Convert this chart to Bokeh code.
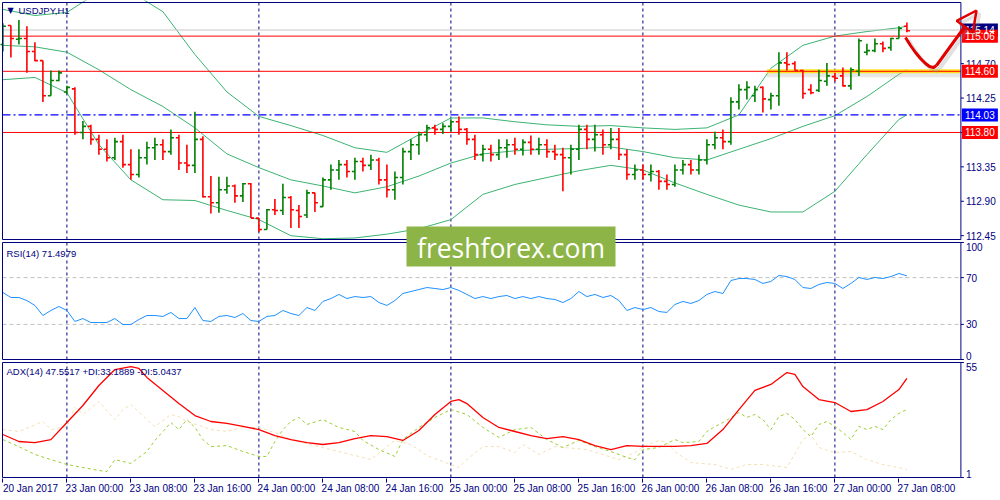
from bokeh.plotting import figure
from bokeh.models import (Range1d, FixedTicker, LinearAxis, Arrow, NormalHead, ColumnDataSource)
from bokeh.embed import file_html
from bokeh.resources import INLINE
from bokeh.core.properties import value

# ---------------- data (USDJPY H1, 20 Jan 16:00 .. 27 Jan 09:00) ----------------
opens = [114.95,115.20,115.02,115.03,114.86,114.74,114.28,114.48,114.33,114.37,
         113.80,113.88,113.71,113.58,113.47,113.68,113.38,113.25,113.47,113.60,
         113.64,113.55,113.73,113.40,113.37,113.71,112.96,112.88,113.05,113.10,
         112.97,113.13,112.68,112.53,112.79,112.78,112.95,112.78,112.72,113.01,
         112.83,113.18,113.31,113.38,113.29,113.42,113.37,113.44,113.18,113.05,
         113.21,113.55,113.64,113.77,113.86,113.84,113.88,113.94,113.84,113.71,
         113.51,113.58,113.51,113.60,113.64,113.58,113.67,113.58,113.64,113.55,
         113.51,113.47,113.58,113.84,113.71,113.77,113.64,113.71,113.51,113.25,
         113.31,113.25,113.29,113.16,113.12,113.31,113.38,113.31,113.44,113.64,
         113.73,113.68,114.20,114.36,114.28,114.39,114.23,114.28,114.71,114.70,
         114.61,114.36,114.35,114.47,114.53,114.54,114.41,114.60,114.85,114.87,
         114.96,114.91,115.03,115.19]
highs = [115.23,115.20,115.27,115.19,114.98,114.74,114.61,114.61,114.41,114.39,
         113.95,113.90,113.77,113.71,113.73,113.77,113.58,113.58,113.68,113.73,
         113.71,113.84,113.77,113.64,114.07,113.75,113.23,113.22,113.22,113.12,
         113.14,113.14,112.68,112.80,112.93,113.13,112.97,112.85,113.05,113.01,
         113.21,113.38,113.44,113.44,113.47,113.47,113.51,113.47,113.38,113.29,
         113.60,113.71,113.81,113.90,113.90,113.92,113.97,114.01,113.86,113.77,
         113.64,113.64,113.71,113.71,113.73,113.71,113.76,113.73,113.71,113.64,
         113.60,113.64,113.90,113.90,113.90,113.84,113.86,113.86,113.58,113.38,
         113.38,113.38,113.31,113.25,113.38,113.44,113.44,113.51,113.71,113.81,
         113.84,114.26,114.43,114.47,114.41,114.40,114.32,114.85,114.85,114.73,
         114.62,114.43,114.62,114.71,114.58,114.65,114.65,115.03,114.96,115.03,
         114.99,115.04,115.19,115.24]
lows = [114.86,114.78,114.95,114.58,114.73,114.20,114.28,114.47,114.30,113.77,
        113.71,113.64,113.51,113.42,113.44,113.34,113.18,113.21,113.38,113.44,
        113.44,113.51,113.31,113.27,113.27,112.95,112.74,112.75,113.00,112.88,
        112.89,112.68,112.50,112.53,112.72,112.72,112.55,112.55,112.68,112.76,
        112.83,113.05,113.18,113.21,113.18,113.29,113.31,113.12,112.95,112.92,
        113.12,113.44,113.51,113.68,113.77,113.78,113.81,113.77,113.64,113.44,
        113.42,113.42,113.44,113.47,113.51,113.50,113.51,113.51,113.47,113.44,
        113.03,113.25,113.44,113.58,113.55,113.51,113.58,113.44,113.18,113.18,
        113.18,113.16,113.05,113.05,113.09,113.25,113.25,113.25,113.38,113.58,
        113.58,113.64,114.10,114.23,114.20,114.06,114.10,114.15,114.61,114.61,
        114.24,114.30,114.33,114.41,114.47,114.40,114.36,114.54,114.81,114.85,
        114.85,114.87,115.03,115.11]
closes = [115.19,115.03,115.03,114.86,114.74,114.28,114.48,114.58,114.39,113.80,
          113.88,113.71,113.58,113.47,113.68,113.38,113.25,113.47,113.60,113.64,
          113.55,113.73,113.40,113.37,113.71,112.96,112.88,113.05,113.10,112.97,
          113.13,112.68,112.53,112.79,112.78,112.95,112.79,112.70,113.01,112.88,
          113.18,113.31,113.38,113.29,113.42,113.37,113.44,113.18,113.05,113.21,
          113.55,113.64,113.77,113.86,113.84,113.88,113.94,113.84,113.71,113.51,
          113.58,113.51,113.60,113.64,113.58,113.67,113.58,113.64,113.55,113.51,
          113.47,113.58,113.84,113.71,113.77,113.64,113.71,113.51,113.25,113.31,
          113.25,113.29,113.16,113.12,113.31,113.38,113.31,113.44,113.64,113.73,
          113.68,114.20,114.36,114.39,114.36,114.24,114.28,114.71,114.69,114.61,
          114.31,114.32,114.48,114.54,114.51,114.41,114.62,115.00,114.87,114.96,
          114.90,115.03,115.16,115.13]
bar_idx = list(range(len(opens)))

# Bollinger bands (read every 4 bars)
band_idx = [0,4,8,12,16,20,24,28,32,36,40,44,48,52,56,60,64,68,72,76,80,84,88,92,96,100,104,108,112,113]
bb_upper = [115.41,115.33,115.37,115.64,115.64,115.38,114.82,114.33,114.01,113.89,113.76,113.60,113.54,113.77,
            113.99,113.99,113.94,113.90,113.88,113.89,113.86,113.84,113.86,114.03,114.64,114.94,115.06,115.12,
            115.17,115.19]
bb_mid = [114.94,114.92,114.85,114.62,114.36,114.14,113.86,113.52,113.34,113.18,113.10,113.01,113.09,113.23,
          113.40,113.52,113.56,113.58,113.59,113.61,113.55,113.47,113.44,113.58,113.72,113.88,114.02,114.27,
          114.56,114.62]
bb_lower = [114.49,114.52,114.32,113.64,113.18,112.92,112.91,112.78,112.66,112.45,112.41,112.42,112.47,112.54,
            112.66,112.99,113.12,113.21,113.30,113.37,113.31,113.14,112.99,112.85,112.76,112.76,113.03,113.51,
            113.97,114.03]

# horizontal levels and price scale
red_levels = [115.06, 114.60, 113.80]
blue_level = 114.03
last_price = 115.14
price_lo, price_hi = 112.40, 115.50
price_ticks = [112.45, 112.90, 113.35, 113.80, 114.25, 114.70, 115.15]
price_tick_labels = ["112.45", "112.90", "113.35", "", "114.25", "114.70", ""]
price_boxes = [(115.14, "navy"), (115.06, "red"), (114.60, "red"), (114.03, "blue"), (113.80, "red")]

# RSI(14), one value per bar
rsi = [57.3,53.0,53.0,50.4,46.2,37.6,41.9,45.3,41.9,32.5,
       35.0,31.6,31.6,31.6,35.0,29.9,29.9,34.2,37.6,37.6,
       36.8,40.2,35.0,35.0,44.4,33.3,32.5,36.8,37.6,35.9,
       39.3,33.3,32.5,36.8,37.6,41.9,39.3,37.6,44.4,41.9,
       49.6,52.1,55.6,52.1,53.8,53.0,53.8,48.7,46.2,50.4,
       56.4,58.1,59.8,61.5,60.7,59.8,61.5,59.0,55.6,52.1,
       53.8,52.1,53.8,54.7,52.1,53.8,52.1,53.8,52.1,51.3,
       48.7,52.1,58.1,53.8,55.6,53.0,54.7,50.4,41.9,44.4,
       42.7,44.4,41.0,40.2,47.0,49.6,47.9,50.4,55.6,58.1,
       56.4,67.5,69.2,69.2,68.4,65.0,66.7,71.8,70.9,68.4,
       61.5,60.7,64.1,65.8,65.0,60.7,65.0,70.1,68.4,70.1,
       69.2,70.9,73.5,71.5]
rsi_levels = [30, 70]
rsi_ticks = [0, 30, 70, 100]

# ADX(14), +DI, -DI
adx_idx = [0,2,4,6,8,10,12,14,16,17,18,20,22,24,26,28,30,32,34,36,38,40,42,44,46,48,50,52,54,56,57,58,60,62,
           64,66,68,70,72,74,76,78,80,82,84,86,88,90,92,94,96,98,99,100,102,104,106,108,110,112,113]
adx_val = [21.2,17.9,17.4,18.8,26.8,34.8,44.2,51.7,53.1,52.2,48.0,41.9,35.7,30.1,27.3,26.4,25.0,23.5,20.7,18.8,
           17.4,16.5,17.4,19.3,20.7,20.2,18.4,23.1,30.6,36.7,37.6,35.7,29.2,24.5,22.6,20.7,19.3,20.2,18.8,16.0,
           14.1,16.0,15.6,15.6,15.6,16.0,17.0,23.5,32.9,41.9,44.7,50.3,49.4,43.7,37.6,36.2,32.0,32.9,36.7,42.3,47.6]
pdi_idx = [0,2,4,6,8,10,12,13,14,16,18,19,20,21,22,23,24,25,26,28,30,32,33,34,35,36,37,38,40,42,44,45,47,49,50,
           52,54,56,58,60,62,64,66,68,70,72,74,76,78,79,80,82,84,85,87,88,89,90,92,93,94,95,96,97,98,99,100,101,
           102,103,104,105,106,107,108,109,110,111,112,113]
pdi_val = [18.8,15.5,11.8,9.4,7.1,5.7,4.3,3.8,9.4,7.6,13.2,18.4,22.6,26.8,23.5,28.2,24.5,18.8,15.5,16.0,13.2,10.9,
           10.9,17.9,23.5,27.3,29.2,25.9,28.2,24.5,22.6,18.4,14.1,10.9,18.8,24.5,29.2,32.9,30.6,24.5,19.8,23.5,24.5,
           18.8,15.1,18.4,15.5,13.2,10.4,9.4,14.1,15.1,18.8,17.4,17.9,22.6,24.9,26.8,31.5,29.2,30.6,28.2,23.5,29.6,
           31.1,28.2,23.5,20.2,25.9,27.3,25.0,22.1,18.8,25.0,23.5,25.0,23.5,28.2,31.1,32.9]
mdi_idx = [0,2,5,6,8,9,10,12,14,15,16,18,19,21,22,23,25,26,28,30,32,34,36,39,42,45,46,48,49,51,53,57,58,60,62,
           64,65,67,69,73,77,79,80,82,83,84,86,89,91,93,95,98,100,101,102,104,106,108,110,113]
mdi_val = [23.5,22.6,27.3,23.5,24.9,33.9,30.6,36.7,28.2,32.9,35.3,28.2,24.9,30.6,29.6,27.3,24.9,23.5,22.6,24.5,
           24.5,22.1,18.8,16.0,13.2,10.4,9.4,15.5,18.4,16.5,11.3,5.7,9.4,15.5,15.5,12.7,16.5,11.8,15.5,14.1,9.4,
           12.7,15.5,18.4,17.4,13.2,8.0,7.1,4.8,7.1,7.1,5.7,18.8,21.2,15.1,12.7,13.2,9.4,7.1,4.8]
adx_lo, adx_hi = 1, 55

time_tick_idx = [0, 8, 16, 24, 32, 40, 48, 56, 64, 72, 80, 88, 96, 104, 112]
time_tick_labels = ["20 Jan 2017", "23 Jan 00:00", "23 Jan 08:00", "23 Jan 16:00", "24 Jan 00:00",
                    "24 Jan 08:00", "24 Jan 16:00", "25 Jan 00:00", "25 Jan 08:00", "25 Jan 16:00",
                    "26 Jan 00:00", "26 Jan 08:00", "26 Jan 16:00", "27 Jan 00:00", "27 Jan 08:00"]
day_sep_idx = [8, 32, 56, 80, 104]

# ---------------- layout / styling ----------------
NAVY = "#000080"
GREEN = "#008000"
RED = "#ff0000"
BOXCOL = {"navy": "#000080", "red": "#ff0000", "blue": "#0000ff"}
FONT = "Liberation Sans"
FW, FH = 998, 478
PXB = 8.0                     # pixels per bar
X0 = -0.3                     # bar index at the frame's left edge
X1 = X0 + FW / PXB
PANEL_L, PANEL_R = -0.05, 119.75
MAIN_PX, RSI_PX, ADX_PX = (2, 239), (242, 359), (362, 477)


def panel_range(vlo, vhi, px):
    top, bottom = px
    upp = (vhi - vlo) / (bottom - top)
    return Range1d(vlo - (FH - bottom) * upp, vhi + top * upp)


main_rng = panel_range(price_lo, price_hi, MAIN_PX)
rsi_rng = panel_range(0, 100, RSI_PX)
adx_rng = panel_range(adx_lo, adx_hi, ADX_PX)
UPP = (price_hi - price_lo) / (MAIN_PX[1] - MAIN_PX[0])


def xpx(px):           # picture pixel -> bar index (for decorations)
    return X0 + (px - 1) / PXB


def ypx(py):           # picture pixel -> main-scale value (for decorations)
    return main_rng.end - (py - 1) * UPP


def tick_dx(px):       # pixel offset right of the panel edge, in bar units
    return PANEL_R + px / PXB


LABEL_SHIFT = 3.45
p = figure(frame_width=FW, frame_height=FH, x_range=Range1d(X0, X1), y_range=main_rng,
           output_backend="svg", toolbar_location=None, x_axis_location=None, y_axis_location=None,
           min_border_left=0, min_border_right=0, min_border_top=0, min_border_bottom=0)
p.extra_y_ranges = {"rsi": rsi_rng, "adx": adx_rng}
p.extra_x_ranges = {"lab": Range1d(X0 - LABEL_SHIFT, X1 - LABEL_SHIFT)}
p.grid.visible = False
p.outline_line_color = None
p.background_fill_color = "white"
p.border_fill_color = "white"

# ---- day separators
for rname, lo, hi in [("default", price_lo, price_hi), ("rsi", 0, 100), ("adx", adx_lo, adx_hi)]:
    p.segment(x0=day_sep_idx, y0=[lo] * len(day_sep_idx), x1=day_sep_idx, y1=[hi] * len(day_sep_idx),
              line_color=NAVY, line_dash="3 3", line_width=1, y_range_name=rname)

# ---- main panel
p.line(band_idx, bb_upper, line_color="#3cb371", line_width=1)
p.line(band_idx, bb_mid, line_color="#3cb371", line_width=1)
p.line(band_idx, bb_lower, line_color="#3cb371", line_width=1)

p.segment(x0=[PANEL_L], y0=[last_price], x1=[PANEL_R], y1=[last_price], line_color="#c8c8c8", line_width=1)
glow_start = 95.5
p.segment(x0=[glow_start], y0=[red_levels[1] - 3 * UPP], x1=[PANEL_R], y1=[red_levels[1] - 3 * UPP],
          line_color="#b0b0b0", line_alpha=0.3, line_width=6)
p.segment(x0=[glow_start], y0=[red_levels[1]], x1=[PANEL_R], y1=[red_levels[1]],
          line_color="#ffe000", line_alpha=0.85, line_width=4)
p.segment(x0=[PANEL_L] * 3, y0=red_levels, x1=[PANEL_R] * 3, y1=red_levels, line_color=RED, line_width=1)
p.segment(x0=[PANEL_L], y0=[blue_level], x1=[PANEL_R], y1=[blue_level], line_color="#0000ff",
          line_width=1.2, line_dash="8 3 2 3")

colors = [GREEN if c >= o else RED for o, c in zip(opens, closes)]
src = ColumnDataSource(dict(x=bar_idx, xl=[i - 0.38 for i in bar_idx], xr=[i + 0.38 for i in bar_idx],
                            o=opens, h=highs, l=lows, c=closes, col=colors))
p.segment(x0="x", y0="l", x1="x", y1="h", line_color="col", line_width=1.6, source=src)
p.segment(x0="xl", y0="o", x1="x", y1="o", line_color="col", line_width=1.6, source=src)
p.segment(x0="x", y0="c", x1="xr", y1="c", line_color="col", line_width=1.6, source=src)

# ---- RSI panel
p.segment(x0=[PANEL_L] * 2, y0=rsi_levels, x1=[PANEL_R] * 2, y1=rsi_levels, line_color="#c0c0c0",
          line_dash="4 3", line_width=1, y_range_name="rsi")
p.line(bar_idx, rsi, line_color="#1e90ff", line_width=1, y_range_name="rsi")

# ---- ADX panel
p.line(mdi_idx, mdi_val, line_color="#f5deb3", line_width=1, line_dash="3 3", y_range_name="adx")
p.line(pdi_idx, pdi_val, line_color="#9acd32", line_width=1, line_dash="3 3", y_range_name="adx")
p.line(adx_idx, adx_val, line_color=RED, line_width=1.3, y_range_name="adx")

# panel borders
for rname, lo, hi in [("default", price_lo, price_hi), ("rsi", 0, 100), ("adx", adx_lo, adx_hi)]:
    p.quad(left=[PANEL_L], right=[PANEL_R], bottom=[lo], top=[hi], fill_color=None,
           line_color=NAVY, line_width=1, y_range_name=rname)

# ---- price scale (right side)
p.segment(x0=[PANEL_R] * len(price_ticks), y0=price_ticks, x1=[tick_dx(3)] * len(price_ticks), y1=price_ticks,
          line_color=NAVY, line_width=1)
p.text(x=[tick_dx(5)] * len(price_ticks), y=price_ticks, text=price_tick_labels, text_font=value(FONT),
       text_font_size="10px", text_color=NAVY, text_baseline="middle", text_align="left")
bx = [b[0] for b in price_boxes]
p.quad(left=[tick_dx(1)] * len(bx), right=[tick_dx(37)] * len(bx),
       bottom=[v - 6.5 * UPP for v in bx], top=[v + 6.5 * UPP for v in bx],
       fill_color=[BOXCOL[b[1]] for b in price_boxes], line_color=None)
p.text(x=[tick_dx(4)] * len(bx), y=bx, text=["%.2f" % v for v in bx], text_font=value(FONT),
       text_font_size="10px", text_color="white", text_baseline="middle", text_align="left")

# RSI scale
p.segment(x0=[PANEL_R] * 4, y0=rsi_ticks, x1=[tick_dx(3)] * 4, y1=rsi_ticks, line_color=NAVY,
          y_range_name="rsi")
p.text(x=[tick_dx(5)] * 4, y=rsi_ticks, text=[str(t) for t in rsi_ticks], text_font=value(FONT),
       text_font_size="10px", text_color=NAVY, text_align="left",
       text_baseline=["bottom", "middle", "middle", "top"], y_range_name="rsi")
# ADX scale
p.segment(x0=[PANEL_R] * 2, y0=[adx_lo, adx_hi], x1=[tick_dx(3)] * 2, y1=[adx_lo, adx_hi], line_color=NAVY,
          y_range_name="adx")
p.text(x=[tick_dx(5)] * 2, y=[adx_lo, adx_hi], text=[str(adx_lo), str(adx_hi)], text_font=value(FONT),
       text_font_size="10px", text_color=NAVY, text_align="left", text_baseline=["bottom", "top"],
       y_range_name="adx")

# ---- headers
p.text(x=[xpx(8)], y=[ypx(6)], text=["▼"], text_font=value("DejaVu Sans"), text_font_size="8px",
       text_color=NAVY, text_baseline="top", text_align="left")
hdr = [("USDJPY,H1", 19, 5), ("RSI(14) 71.4979", 7, 248), ("ADX(14) 47.5517 +DI:33.1889 -DI:5.0437", 7, 366)]
p.text(x=[xpx(h[1]) for h in hdr], y=[ypx(h[2]) for h in hdr], text=[h[0] for h in hdr],
       text_font=value(FONT), text_font_size="9.5px", text_color=NAVY, text_baseline="top",
       text_align="left")

# ---- watermark logo
p.quad(left=[xpx(407)], right=[xpx(616)], top=[ypx(227)], bottom=[ypx(267)], fill_color="#8db446",
       line_color=None)
p.text(x=[xpx(511.5)], y=[ypx(248)], text=["freshforex.com"], text_font=value("Open Sans"),
       text_font_size="26.5px", text_color="white", text_align="center", text_baseline="middle")

# ---- hand-drawn forecast arrow (picture pixels)
arrow_path_px = [(906, 38), (911, 46), (916, 53), (921, 59), (926, 64), (930, 67), (934, 68), (937, 66)]
arrow_tip_px = (977, 11)
for dx, dy, col, alpha, w in [(3, 3, "#888888", 0.25, 4), (0, 0, "#e00000", 1.0, 3)]:
    p.line([xpx(a + dx) for a, b in arrow_path_px], [ypx(b + dy) for a, b in arrow_path_px],
           line_color=col, line_alpha=alpha, line_width=w, line_join="round")
    p.add_layout(Arrow(end=NormalHead(line_color=col, line_alpha=alpha, line_width=w - 0.5, size=20,
                                      fill_alpha=0),
                       x_start=xpx(arrow_path_px[-1][0] + dx), y_start=ypx(arrow_path_px[-1][1] + dy),
                       x_end=xpx(arrow_tip_px[0] + dx), y_end=ypx(arrow_tip_px[1] + dy),
                       line_color=col, line_alpha=alpha, line_width=w))

# ---- time axis: tick marks at the bar positions, labels starting at each tick
tick_axis = LinearAxis(ticker=FixedTicker(ticks=time_tick_idx),
                       major_label_overrides={i: "" for i in time_tick_idx},
                       major_tick_out=4, major_tick_in=0, axis_line_color=None, major_tick_line_color=NAVY,
                       minor_tick_line_color=None, major_label_standoff=0, major_label_text_font_size="1px")
p.add_layout(tick_axis, "below")
label_axis = LinearAxis(x_range_name="lab", ticker=FixedTicker(ticks=time_tick_idx),
                        major_label_overrides=dict(zip(time_tick_idx, time_tick_labels)),
                        major_tick_out=0, major_tick_in=0, axis_line_color=None, major_tick_line_color=None,
                        minor_tick_line_color=None, major_label_standoff=0,
                        major_label_text_font=FONT, major_label_text_font_size="10px",
                        major_label_text_color=NAVY)
p.add_layout(label_axis, "below")

open("out.html", "w").write(file_html(p, INLINE))
